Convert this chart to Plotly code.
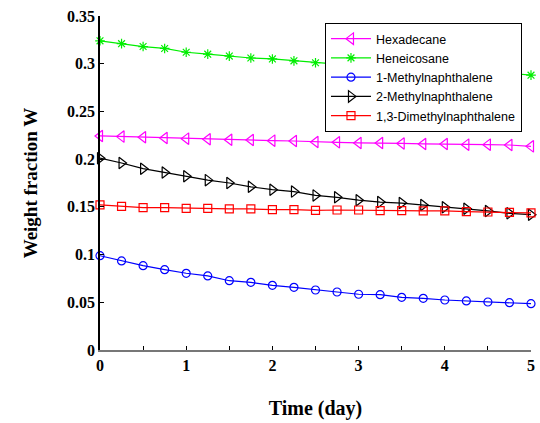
import plotly.graph_objects as go

time_day = [0, 0.25, 0.5, 0.75, 1, 1.25, 1.5, 1.75, 2, 2.25, 2.5,
            2.75, 3, 3.25, 3.5, 3.75, 4, 4.25, 4.5, 4.75, 5]

hexadecane = [0.2243, 0.2236, 0.2229, 0.2222, 0.2215, 0.2208, 0.2204, 0.2201, 0.2194, 0.2190, 0.2180,
              0.2176, 0.2170, 0.2170, 0.2165, 0.2159, 0.2159, 0.2152, 0.2152, 0.2148, 0.2134]
heneicosane = [0.324, 0.321, 0.318, 0.316, 0.312, 0.310, 0.308, 0.306, 0.305, 0.303, 0.301,
               0.2995, 0.298, 0.2965, 0.2955, 0.2945, 0.2935, 0.2925, 0.2915, 0.2900, 0.288]
methylnaph_1 = [0.0988, 0.0933, 0.0884, 0.0842, 0.0804, 0.0776, 0.0726, 0.0709, 0.0678, 0.0657, 0.0629,
                0.0608, 0.0584, 0.0580, 0.0552, 0.0542, 0.0524, 0.0514, 0.0503, 0.0496, 0.0485]
methylnaph_2 = [0.201, 0.196, 0.190, 0.186, 0.182, 0.178, 0.175, 0.171, 0.168, 0.166, 0.162,
                0.160, 0.157, 0.155, 0.154, 0.152, 0.1495, 0.148, 0.1457, 0.1432, 0.1418]
dimethylnaph_13 = [0.152, 0.1506, 0.1491, 0.1491, 0.1485, 0.1485, 0.1478, 0.1478, 0.1470, 0.1470, 0.1464,
                   0.1467, 0.1467, 0.1460, 0.1460, 0.1457, 0.1457, 0.1449, 0.1446, 0.1443, 0.1436]

series_names = ["Hexadecane", "Heneicosane", "1-Methylnaphthalene",
                "2-Methylnaphthalene", "1,3-Dimethylnaphthalene"]
series_values = [hexadecane, heneicosane, methylnaph_1, methylnaph_2, dimethylnaph_13]
colors = ["#ff00ff", "#00ee00", "#0000ff", "#000000", "#ff0000"]
symbols = ["triangle-left-open", "asterisk-open", "circle-open", "triangle-right-open", "square-open"]
sizes = [10, 8, 8, 10, 8]

x_tickvals = [0, 0.5, 1, 1.5, 2, 2.5, 3, 3.5, 4, 4.5, 5]
x_ticktext = ["0", "", "1", "", "2", "", "3", "", "4", "", "5"]
y_tickvals = [0, 0.05, 0.1, 0.15, 0.2, 0.25, 0.3, 0.35]
y_ticktext = ["0", "0.05", "0.1", "0.15", "0.2", "0.25", "0.3", "0.35"]

fig = go.Figure()
for name, vals, c, s, sz in zip(series_names, series_values, colors, symbols, sizes):
    fig.add_trace(go.Scatter(
        x=time_day, y=vals, name=name, mode="lines+markers",
        line=dict(color=c, width=1.2),
        marker=dict(symbol=s, size=sz, color=c, line=dict(color=c, width=1.2)),
        cliponaxis=False,
    ))

serif = "Liberation Serif, Times New Roman, serif"
fig.update_layout(
    width=540, height=423,
    margin=dict(l=100, r=9, t=16, b=73),
    paper_bgcolor="white", plot_bgcolor="white",
    font=dict(family=serif, color="black"),
    xaxis=dict(
        range=[0, 5], tickvals=x_tickvals, ticktext=x_ticktext,
        ticks="inside", ticklen=4, tickcolor="black", tickwidth=1,
        showline=True, linecolor="#777777", linewidth=1.5,
        showgrid=False, zeroline=False, automargin=False,
        tickfont=dict(family=serif, size=16, color="black", weight="bold"),
        title=dict(text="<b>Time (day)</b>", font=dict(family=serif, size=20), standoff=28),
    ),
    yaxis=dict(
        range=[0, 0.35], tickvals=y_tickvals, ticktext=y_ticktext,
        ticks="inside", ticklen=4, tickcolor="black", tickwidth=1,
        showline=True, linecolor="black", linewidth=1.5,
        showgrid=False, zeroline=False, automargin=False,
        tickfont=dict(family=serif, size=16, color="black", weight="bold"),
        title=dict(text="<b>Weight fraction W</b>", font=dict(family=serif, size=19), standoff=24),
    ),
    legend=dict(
        x=0.522, y=0.979, xanchor="left", yanchor="top",
        bgcolor="white", bordercolor="black", borderwidth=1,
        font=dict(family="Liberation Sans, Arial, sans-serif", size=12.5, color="black"),
        itemwidth=40, tracegroupgap=0,
    ),
    showlegend=True,
)

fig.write_html(
    "out.html",
    config={"displayModeBar": False},
    post_script="document.body.style.margin='0';document.body.style.overflow='hidden';",
)
